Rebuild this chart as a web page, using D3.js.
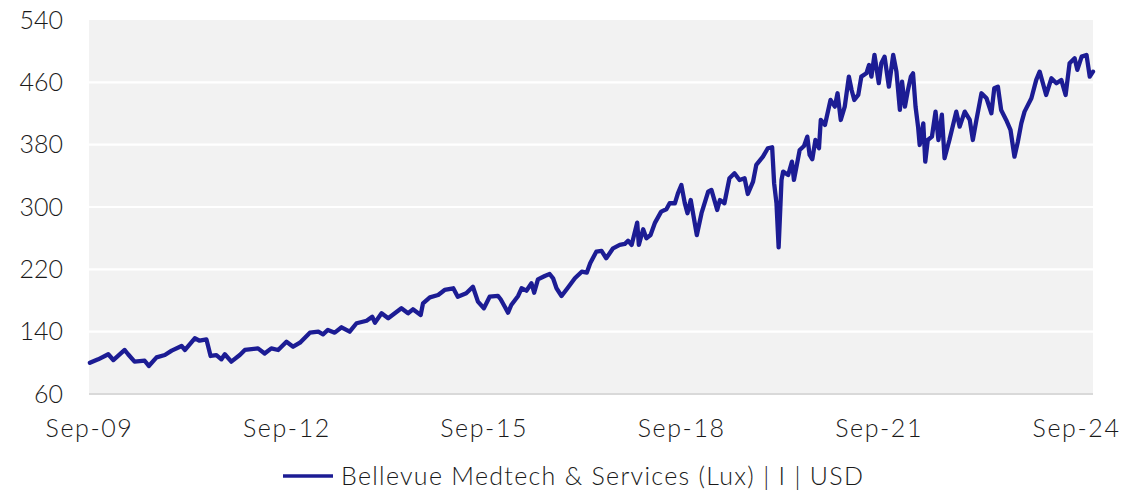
<!DOCTYPE html>
<html>
<head>
<meta charset="utf-8">
<script src="https://cdn.jsdelivr.net/npm/d3@7"></script>
<style>
  html, body { margin: 0; padding: 0; background: #fff; }
  svg { display: block; font-family: Lato, "Open Sans", sans-serif; }
</style>
</head>
<body>
<svg id="chart"></svg>
<script>
// fund price series
const dates = [
  '2009-09-06','2009-10-22','2009-12-17','2010-01-14','2010-03-18','2010-04-06','2010-05-12','2010-07-07',
  '2010-07-30','2010-09-11','2010-10-27','2010-12-04','2011-01-28','2011-02-16','2011-04-11','2011-05-08',
  '2011-06-15','2011-07-08','2011-08-09','2011-09-06','2011-09-25','2011-10-31','2011-12-17','2012-01-14',
  '2012-03-27','2012-05-03','2012-06-09','2012-07-17','2012-09-01','2012-10-08','2012-11-15','2013-01-09',
  '2013-02-25','2013-03-23','2013-04-19','2013-05-27','2013-07-04','2013-08-18','2013-09-25','2013-11-20',
  '2013-12-21','2014-01-05','2014-02-11','2014-03-20','2014-06-01','2014-07-08','2014-08-04','2014-09-16',
  '2014-09-29','2014-11-06','2014-12-22','2015-01-27','2015-03-16','2015-04-10','2015-05-27','2015-07-03',
  '2015-07-31','2015-09-02','2015-10-04','2015-11-19','2015-12-04','2015-12-27','2016-01-14','2016-02-01',
  '2016-03-10','2016-03-29','2016-04-25','2016-05-23','2016-06-07','2016-06-28','2016-08-05','2016-09-01',
  '2016-09-20','2016-10-09','2016-11-06','2016-12-13','2017-01-19','2017-02-26','2017-03-26','2017-04-14',
  '2017-05-18','2017-06-16','2017-07-12','2017-08-19','2017-09-25','2017-10-23','2017-11-10','2017-11-30',
  '2017-12-31','2018-01-09','2018-02-02','2018-02-20','2018-03-15','2018-04-09','2018-05-13','2018-06-11',
  '2018-06-29','2018-07-28','2018-08-14','2018-09-02','2018-09-21','2018-10-06','2018-10-24','2018-11-27',
  '2018-12-23','2019-01-29','2019-02-16','2019-03-20','2019-04-04','2019-04-29','2019-05-27','2019-06-24',
  '2019-07-22','2019-08-19','2019-09-06','2019-10-05','2019-10-23','2019-11-29','2019-12-26','2020-01-19',
  '2020-01-30','2020-02-12','2020-02-24','2020-03-11','2020-03-20','2020-04-17','2020-05-08','2020-05-19',
  '2020-06-20','2020-07-14','2020-08-01','2020-08-14','2020-08-29','2020-09-15','2020-10-05','2020-10-15',
  '2020-11-07','2020-12-08','2021-01-01','2021-01-16','2021-02-03','2021-02-25','2021-03-20','2021-04-04',
  '2021-04-19','2021-05-11','2021-05-28','2021-06-25','2021-07-10','2021-07-23','2021-08-09','2021-09-02',
  '2021-09-16','2021-10-04','2021-10-28','2021-11-21','2021-12-09','2021-12-28','2022-01-09','2022-01-25',
  '2022-02-11','2022-02-27','2022-03-11','2022-03-25','2022-04-08','2022-04-17','2022-05-07','2022-05-18',
  '2022-06-01','2022-06-24','2022-07-14','2022-07-30','2022-08-18','2022-09-02','2022-09-29','2022-11-06',
  '2022-11-25','2022-12-23','2023-01-20','2023-02-06','2023-02-26','2023-03-26','2023-04-23','2023-05-20',
  '2023-06-05','2023-06-25','2023-07-13','2023-08-10','2023-09-03','2023-09-25','2023-10-14','2023-11-02',
  '2023-11-20','2023-12-28','2024-01-24','2024-02-12','2024-03-19','2024-04-17','2024-05-15','2024-06-11',
  '2024-07-05','2024-07-27','2024-08-24','2024-09-08','2024-10-02','2024-10-29','2024-11-16','2024-12-04'
];
const values = [
  100, 104.5, 111, 103.6, 116.5, 111, 101.5, 102.7,
  96, 107, 110, 115.6, 121.6, 116.5, 131.5, 128.4,
  130, 108.8, 110, 104.5, 111, 101.5, 110, 116.5,
  118.6, 112, 118.6, 116.5, 127, 120.7, 125.9, 138.7,
  140, 136.6, 142.2, 138.7, 145.6, 140, 150.8, 154,
  159.2, 151.5, 163.6, 157.2, 170, 163.6, 168.7, 161.4,
  176.4, 184.1, 187, 193.5, 195.7, 184.9, 189.3, 197.7,
  178.5, 170, 184.9, 185.8, 181.6, 172, 164.4, 174.2,
  185.8, 195.7, 192.6, 202.1, 190, 207.2, 211.5, 214,
  208.5, 195.7, 185.8, 197, 208.5, 217, 215.7, 227.8,
  242.7, 243.6, 234.2, 247, 251.3, 252.6, 256.8, 251.3,
  280, 251.3, 271.4, 259.9, 264.1, 280, 294.1, 297.1,
  304.8, 304.8, 317.6, 328.3, 305, 292, 309, 264,
  292, 319.6, 321.9, 296.2, 309, 304.8, 336.9, 343.3,
  334.7, 336.9, 316.7, 332.5, 354, 364.6, 375.4, 376.7,
  330.5, 304.8, 248.2, 334.7, 345.4, 341.1, 358.2, 334.7,
  373.2, 378.3, 390.3, 366.8, 361.3, 386, 375.4, 411.7,
  405.3, 437.4, 428.8, 446, 411.7, 428.8, 467.3, 450.2,
  437.4, 443.8, 467.3, 471.6, 482.3, 467.3, 495.2, 458.9,
  484.5, 493, 454.5, 495.2, 473.7, 424.6, 461, 428.8,
  450.2, 467.3, 471.6, 428.8, 403.1, 379.6, 407.4, 358.2,
  386, 390.3, 422.4, 386, 418.5, 362.6, 386, 422.4,
  403.1, 422.4, 411.7, 386, 411.7, 446, 439.6, 420.3,
  452.4, 454.5, 424.6, 411.7, 398.9, 364.6, 383.8, 407.4,
  422.4, 439.6, 463.1, 473.7, 443.8, 465.2, 458.8, 463.1,
  443.8, 484.5, 491, 476, 493, 495.2, 467.3, 473.7
];
const yTicks = [60, 140, 220, 300, 380, 460, 540];
const xTickDates = ['2009-09-01', '2012-09-01', '2015-09-01', '2018-09-01', '2021-09-01', '2024-09-01'];
const seriesName = 'Bellevue Medtech & Services (Lux) | I | USD';

const W = 1125, H = 491;
const margin = {top: 20, right: 32, bottom: 97, left: 89};
const width = W - margin.left - margin.right;
const height = H - margin.top - margin.bottom;
const lineColor = '#1c1c94';
const textColor = '#1a1a1a';

const parse = d3.timeParse('%Y-%m-%d');
const data = dates.map((d, i) => ({ date: parse(d), value: values[i] }));

const svg = d3.select('#chart')
  .attr('width', W)
  .attr('height', H);

const g = svg.append('g')
  .attr('transform', 'translate(' + margin.left + ',' + margin.top + ')');

const x = d3.scaleTime()
  .domain([parse('2009-09-01'), parse(dates[dates.length - 1])])
  .range([0, width]);

const y = d3.scaleLinear()
  .domain([60, 540])
  .range([height, 0]);

// plot background
g.append('rect')
  .attr('width', width)
  .attr('height', height)
  .attr('fill', '#f2f2f2');

// gridlines
g.append('g')
  .selectAll('line')
  .data(yTicks.filter(v => v > 60 && v < 540))
  .join('line')
    .attr('x1', 0)
    .attr('x2', width)
    .attr('y1', d => y(d))
    .attr('y2', d => y(d))
    .attr('stroke', '#fff')
    .attr('stroke-width', 2.2);

// bottom axis line
g.append('line')
  .attr('x1', 0)
  .attr('x2', width)
  .attr('y1', y(60))
  .attr('y2', y(60))
  .attr('stroke', '#d9d9d9')
  .attr('stroke-width', 2);

// Y axis labels
const yAxis = g.append('g')
  .attr('transform', 'translate(-26,0)')
  .call(d3.axisLeft(y).tickValues(yTicks).tickSize(0).tickFormat(d3.format('d')));
yAxis.select('.domain').remove();
yAxis.selectAll('text')
  .attr('x', 0)
  .attr('fill', textColor)
  .style('font-size', '25px')
  .style('font-weight', 300)
  .style('font-family', 'Lato, sans-serif');

// X axis labels
const xAxis = g.append('g')
  .attr('transform', 'translate(0,' + height + ')')
  .call(d3.axisBottom(x)
    .tickValues(xTickDates.map(parse))
    .tickSize(0)
    .tickFormat(d3.timeFormat('%b-%y')));
xAxis.select('.domain').remove();
xAxis.selectAll('text')
  .attr('y', 25)
  .attr('fill', textColor)
  .style('font-size', '25px')
  .style('font-weight', 300)
  .style('letter-spacing', '1.6px')
  .style('font-family', 'Lato, sans-serif');

// the line
g.append('path')
  .datum(data)
  .attr('fill', 'none')
  .attr('stroke', lineColor)
  .attr('stroke-width', 4.3)
  .attr('stroke-linejoin', 'round')
  .attr('stroke-linecap', 'round')
  .attr('d', d3.line()
    .x(d => x(d.date))
    .y(d => y(d.value))
  );

// legend
const legend = svg.append('g')
  .attr('transform', 'translate(283,476)');
legend.append('line')
  .attr('x1', 0)
  .attr('x2', 50)
  .attr('stroke', lineColor)
  .attr('stroke-width', 3.5);
legend.append('text')
  .attr('x', 58)
  .attr('dy', '0.35em')
  .attr('fill', textColor)
  .style('font-size', '25px')
  .style('font-weight', 300)
  .style('letter-spacing', '1.3px')
  .text(seriesName);
</script>
</body>
</html>
